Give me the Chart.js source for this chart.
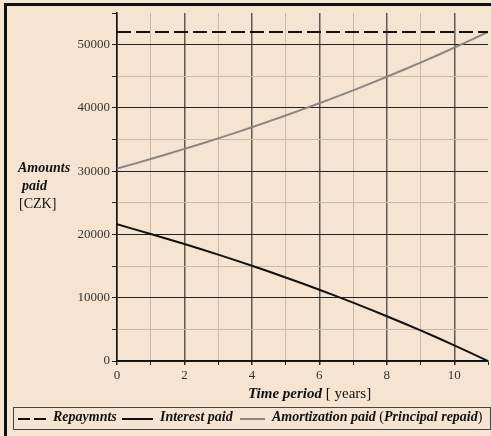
<!DOCTYPE html>
<html>
<head>
<meta charset="utf-8">
<script src="https://cdn.jsdelivr.net/npm/chart.js@4.4.0/dist/chart.umd.min.js"></script>
<style>
  html, body { margin: 0; padding: 0; background: #f5e4d2; }
  #wrap { position: relative; width: 491px; height: 436px; overflow: hidden; background: #f5e4d2; }
  #frame { position: absolute; left: 4px; top: 3px; right: -10px; bottom: -10px;
           border-left: 3px solid #111; border-top: 3px solid #111; }
  canvas { position: absolute; left: 0; top: 0; }
  .t { position: absolute; font-family: "Liberation Serif", "Times New Roman", serif; color: #111; white-space: nowrap; }
  .bi { font-weight: bold; font-style: italic; }
  #legend { position: absolute; left: 13px; top: 407px; width: 476px; height: 21px; border: 1px solid #444; }
  .sample { position: absolute; top: 10px; height: 0; }
</style>
</head>
<body>
<div id="wrap">
  <div id="frame"></div>
  <canvas id="chart" width="491" height="436"></canvas>

  <div class="t bi" style="left:18px; top:160px; font-size:14px;">Amounts</div>
  <div class="t bi" style="left:22px; top:178px; font-size:14px;">paid</div>
  <div class="t" style="left:19px; top:196px; font-size:14px;">[CZK]</div>

  <div class="t" style="left:248px; top:385px; font-size:15px;"><span class="bi">Time period</span> [ years]</div>

  <div id="legend">
    <div class="sample" style="left:4px; width:12px; border-top:2px solid #111;"></div>
    <div class="sample" style="left:20px; width:12px; border-top:2px solid #111;"></div>
    <div class="t bi" style="left:39px; top:1px; font-size:14px;">Repaymnts</div>
    <div class="sample" style="left:108px; width:31px; border-top:2px solid #111;"></div>
    <div class="t bi" style="left:146px; top:1px; font-size:14px;">Interest paid</div>
    <div class="sample" style="left:226px; width:25px; border-top:2px solid #8a8580;"></div>
    <div class="t" style="left:258px; top:1px; font-size:14px;"><span class="bi">Amortization paid</span> (<span class="bi">Principal repaid</span>)</div>
  </div>
</div>

<script>
  const years = [0, 1, 2, 3, 4, 5, 6, 7, 8, 9, 10, 11];
  const repayments = [52000, 52000, 52000, 52000, 52000, 52000, 52000, 52000, 52000, 52000, 52000, 52000];
  const interestPaid = [21600, 20080, 18480, 16810, 15050, 13200, 11260, 9220, 7080, 4840, 2480, 0];
  const amortization = [30400, 31920, 33520, 35190, 36950, 38800, 40740, 42780, 44920, 47160, 49520, 52000];

  const lightGrid = '#c9b9a8';
  const toPoints = arr => arr.map((v, i) => ({ x: years[i], y: v }));

  new Chart(document.getElementById('chart'), {
    type: 'line',
    data: {
      datasets: [
        { label: 'Repaymnts', data: toPoints(repayments), borderColor: '#111', borderWidth: 2, borderDash: [14, 5], tension: 0 },
        { label: 'Interest paid', data: toPoints(interestPaid), borderColor: '#111', borderWidth: 2, tension: 0.3 },
        { label: 'Amortization paid', data: toPoints(amortization), borderColor: '#8a8580', borderWidth: 2, tension: 0.3 }
      ]
    },
    options: {
      responsive: false,
      animation: false,
      layout: { padding: { top: 13, right: 1, left: 0, bottom: 0 } },
      elements: { point: { radius: 0 } },
      plugins: { legend: { display: false }, tooltip: { enabled: false } },
      scales: {
        x: {
          type: 'linear', min: 0, max: 11,
          afterFit: s => { s.height = 75; },
          border: { color: '#111', width: 1.5 },
          grid: {
            color: c => c.tick.value === 11 ? 'rgba(0,0,0,0)' : (c.tick.value % 2 === 0 ? '#5f5850' : lightGrid),
            lineWidth: c => c.tick.value % 2 === 0 ? 1.5 : 1,
            tickColor: '#222', tickLength: 4
          },
          ticks: {
            stepSize: 1, autoSkip: false, maxRotation: 0, padding: 3,
            color: '#333', font: { family: 'Liberation Serif', size: 13 },
            callback: v => (v % 2 === 0 && v < 11) ? v : ''
          }
        },
        y: {
          min: 0, max: 55000,
          afterFit: s => { s.width = 117; },
          border: { color: '#111', width: 1.5 },
          grid: {
            color: c => c.tick.value >= 55000 ? 'rgba(0,0,0,0)' : (c.tick.value % 10000 === 0 ? '#222' : lightGrid),
            tickColor: '#222', tickLength: 5
          },
          ticks: {
            stepSize: 5000, padding: 2,
            color: '#333', font: { family: 'Liberation Serif', size: 13 },
            callback: v => (v % 10000 === 0 && v <= 50000) ? v : ''
          }
        }
      }
    }
  });
</script>
</body>
</html>
